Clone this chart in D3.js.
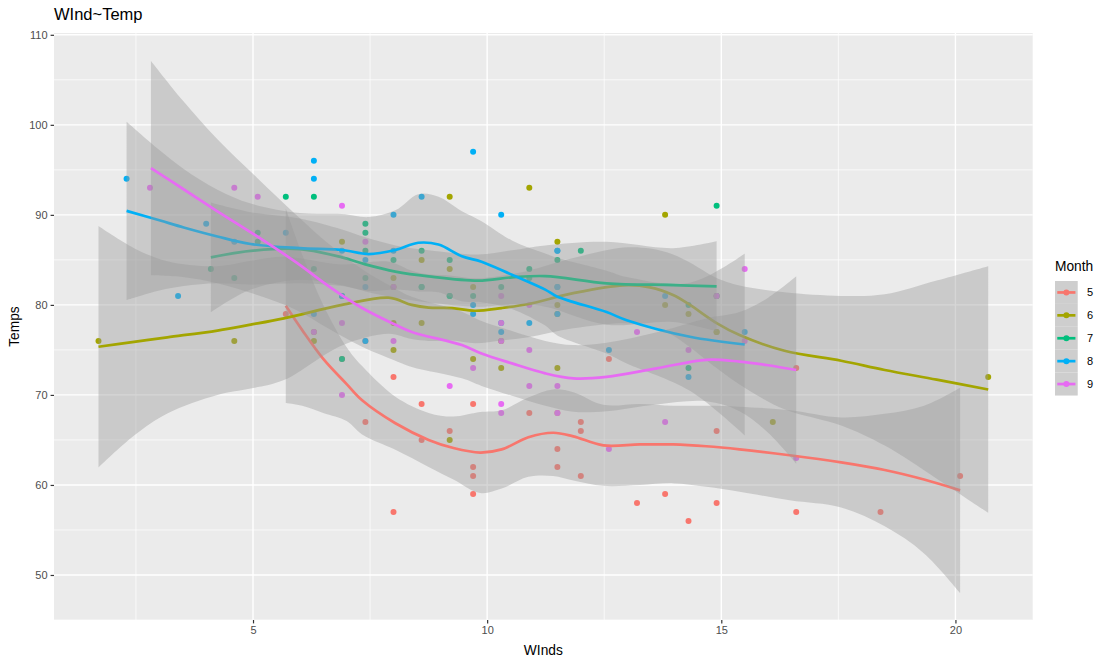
<!DOCTYPE html>
<html><head><meta charset="utf-8">
<script src="https://cdn.jsdelivr.net/npm/d3@7"></script>
<style>
body{margin:0;background:#fff;}
text{font-family:"Liberation Sans",Arial,Helvetica,sans-serif;}
</style>
</head><body>
<svg id="chart" width="1110" height="666"></svg>
<script>
// ---------------- data (airquality: Wind vs Temp by Month) ----------------
const months = ["5","6","7","8","9"];
const monthColors = ["#F8766D","#A3A500","#00BF7D","#00B0F6","#E76BF3"];

const wind5 = [7.4,8.0,12.6,11.5,14.3,14.9,8.6,13.8,20.1,8.6,6.9,9.7,9.2,10.9,13.2,11.5,12.0,18.4,11.5,9.7,9.7,16.6,9.7,12.0,16.6,14.9,8.0,12.0,14.9,5.7,7.4];
const temp5 = [67,72,74,62,56,66,65,59,61,69,74,69,66,68,58,64,66,57,68,62,59,73,61,61,57,58,57,67,81,79,76];
const wind6 = [8.6,9.7,16.1,9.2,8.6,14.3,9.7,6.9,13.8,11.5,10.9,9.2,8.0,13.8,11.5,14.9,20.7,9.2,11.5,10.3,6.3,1.7,4.6,6.3,8.0,8.0,10.3,11.5,14.9,8.0];
const temp6 = [78,74,67,84,85,79,82,87,90,87,93,92,82,80,79,77,72,65,73,76,77,76,76,76,75,78,73,80,77,83];
const wind7 = [4.1,9.2,9.2,10.9,4.6,10.9,5.1,6.3,5.7,7.4,8.6,14.3,14.9,14.9,14.3,6.9,10.3,6.3,5.1,11.5,6.9,9.7,11.5,8.6,8.0,8.6,12.0,7.4,7.4,7.4,9.2];
const temp7 = [84,85,81,84,83,83,88,92,92,89,82,73,81,91,80,81,82,84,87,85,74,81,82,86,85,82,86,88,86,83,81];
const wind8 = [6.9,13.8,7.4,6.9,7.4,4.6,4.0,10.3,8.0,8.6,11.5,11.5,11.5,9.7,11.5,10.3,6.3,7.4,10.9,10.3,15.5,14.3,12.6,9.7,3.4,8.0,5.7,9.7,2.3,6.3,6.3];
const temp8 = [81,81,82,86,85,87,89,90,90,92,86,86,82,80,79,77,79,76,78,78,77,72,75,79,81,86,88,97,94,96,94];
const wind9 = [6.9,5.1,2.8,4.6,7.4,15.5,10.9,10.3,10.9,9.7,14.9,15.5,6.3,10.9,11.5,6.9,13.8,10.3,10.3,8.0,12.6,9.2,10.3,10.3,16.6,6.9,13.2,14.3,8.0,11.5];
const temp9 = [91,92,93,93,87,84,80,78,75,73,81,76,77,71,71,78,67,76,68,82,64,71,81,69,63,70,77,75,76,68];

// smoothed curves: x, fit, lower, upper
const smX5  = [5.7,6.05,6.5,7.0,7.33,8.04,8.75,9.28,9.85,10.31,10.88,11.41,11.84,12.48,13.26,13.97,14.68,15.39,16.46,17.56,18.49,19.33,20.1];
const smY5  = [79.9,77.2,74.0,71.2,69.4,66.85,65.0,64.1,63.6,63.95,65.3,65.8,65.4,64.4,64.5,64.5,64.3,63.96,63.3,62.5,61.66,60.6,59.4];
const smLo5 = [69.1,68.8,68.0,67.1,65.6,63.9,62.0,60.6,59.1,59.6,60.9,61.0,60.5,59.9,60.0,60.2,59.8,59.25,58.3,57.5,55.4,52.4,48.0];
const smHi5 = [90.7,85.6,80.0,75.3,73.2,69.8,68.0,67.6,68.1,68.3,69.7,70.6,70.3,68.9,69.0,68.8,68.8,68.7,68.3,67.5,67.9,68.8,70.8];

const smX6  = [1.7,2.46,3.17,4.24,4.95,5.66,6.9,7.9,8.39,8.75,9.25,9.74,10.31,10.88,11.84,12.91,13.48,13.97,14.33,14.9,15.39,16.35,17.56,18.49,19.6,20.7];
const smY6  = [75.35,75.9,76.4,77.15,77.8,78.5,80.0,80.8,80.0,79.7,79.65,79.35,79.65,80.1,81.3,82.17,81.95,81.1,80.0,77.98,76.65,74.9,73.8,72.77,71.7,70.6];
const smLo6 = [61.95,65.5,67.95,70.0,70.7,71.65,75.5,76.8,76.2,76.0,76.05,75.75,76.05,76.4,77.4,77.97,77.65,76.6,75.3,72.98,71.15,68.4,66.6,64.37,60.7,56.9];
const smHi6 = [88.75,86.3,84.85,84.3,84.9,85.35,84.5,84.8,83.8,83.4,83.25,82.95,83.25,83.8,85.2,86.37,86.25,85.6,84.7,82.98,82.15,81.4,81.0,81.17,82.7,84.3];

const smX7  = [4.1,4.95,6.0,6.9,7.4,8.04,8.75,9.81,10.53,11.24,12.55,13.97,14.9];
const smY7  = [85.28,86.0,86.2,85.28,84.5,83.7,83.17,82.7,83.06,83.2,82.4,82.2,82.06];
const smLo7 = [79.18,81.7,82.8,82.18,81.5,80.8,80.27,79.8,80.06,79.8,77.8,78.1,77.06];
const smHi7 = [91.38,90.3,89.6,88.38,87.5,86.6,86.07,85.6,86.06,86.6,87.0,86.3,87.06];

const smX8  = [2.3,3.0,3.52,4.24,4.95,6.0,6.9,7.47,8.04,8.53,8.96,9.46,9.88,10.53,11.24,11.49,12.55,12.98,14.33,15.5];
const smY8  = [90.44,89.4,88.6,87.6,86.76,86.3,86.1,85.65,86.1,86.9,86.7,85.4,84.8,83.35,81.7,80.94,79.2,78.3,76.46,75.6];
const smLo8 = [80.54,81.6,82.1,82.4,82.26,82.4,82.1,81.55,81.7,81.5,81.4,80.4,80.3,79.55,77.7,76.64,74.6,73.5,70.46,65.5];
const smHi8 = [100.34,97.2,95.1,92.8,91.26,90.2,90.1,89.75,90.5,92.3,92.0,90.4,89.3,87.15,85.7,85.24,83.8,83.1,82.46,85.7];

const smX9  = [2.82,3.5,4.24,5.09,5.9,6.62,7.33,8.04,8.39,9.46,9.88,10.53,11.24,11.84,12.55,13.62,14.68,15.39,16.0,16.6];
const smY9  = [95.2,92.9,90.4,87.6,84.8,82.06,79.65,77.8,77.0,75.54,74.6,73.5,72.4,71.84,72.0,72.95,73.9,73.7,73.3,72.77];
const smLo9 = [83.3,83.1,82.4,81.1,79.5,77.36,75.35,73.8,73.1,71.84,71.0,69.9,68.8,68.14,68.2,68.95,69.3,68.2,65.8,62.37];
const smHi9 = [107.1,102.7,98.4,94.1,90.1,86.76,83.95,81.8,80.9,79.24,78.2,77.1,76.0,75.54,75.8,76.95,78.5,79.2,80.8,83.17];

const xTicks = [5,10,15,20];
const yTicks = [50,60,70,80,90,100,110];
const xDomain = [0.75, 21.65];
const yDomain = [45.0, 110.2];

// ---------------- build ----------------
const winds = [wind5,wind6,wind7,wind8,wind9];
const temps = [temp5,temp6,temp7,temp8,temp9];
const smooths = [
  [smX5,smY5,smLo5,smHi5],[smX6,smY6,smLo6,smHi6],[smX7,smY7,smLo7,smHi7],
  [smX8,smY8,smLo8,smHi8],[smX9,smY9,smLo9,smHi9]
];

const svg = d3.select("#chart");
const P = {l:54, r:1032.7, t:33, b:620};
const x = d3.scaleLinear().domain(xDomain).range([P.l, P.r]);
const y = d3.scaleLinear().domain(yDomain).range([P.b, P.t]);

svg.append("rect").attr("width",1110).attr("height",666).attr("fill","#fff");
svg.append("rect").attr("x",P.l).attr("y",P.t).attr("width",P.r-P.l).attr("height",P.b-P.t).attr("fill","#EBEBEB");

const g = svg.append("g");
// minor grid
const xMinor = [2.5,7.5,12.5,17.5];
const yMinor = [45,55,65,75,85,95,105];
g.selectAll(".xmin").data(xMinor).join("line")
  .attr("x1",d=>x(d)).attr("x2",d=>x(d)).attr("y1",P.t).attr("y2",P.b)
  .attr("stroke","#fff").attr("stroke-width",0.7);
g.selectAll(".ymin").data(yMinor).join("line")
  .attr("y1",d=>y(d)).attr("y2",d=>y(d)).attr("x1",P.l).attr("x2",P.r)
  .attr("stroke","#fff").attr("stroke-width",0.7);
// major grid
g.selectAll(".xmaj").data(xTicks).join("line")
  .attr("x1",d=>x(d)).attr("x2",d=>x(d)).attr("y1",P.t).attr("y2",P.b)
  .attr("stroke","#fff").attr("stroke-width",1.4);
g.selectAll(".ymaj").data(yTicks).join("line")
  .attr("y1",d=>y(d)).attr("y2",d=>y(d)).attr("x1",P.l).attr("x2",P.r)
  .attr("stroke","#fff").attr("stroke-width",1.4);

// points (all groups first)
months.forEach((m,i)=>{
  const pts = winds[i].map((w,j)=>({w, t:temps[i][j]}));
  svg.append("g").selectAll("circle").data(pts).join("circle")
    .attr("cx",d=>x(d.w)).attr("cy",d=>y(d.t)).attr("r",3)
    .attr("fill",monthColors[i]);
});

// smooth ribbons + lines per group
const curve = d3.curveCatmullRom.alpha(0.5);
months.forEach((m,i)=>{
  const [sx,sy,lo,hi] = smooths[i];
  const rows = sx.map((v,j)=>({x:v, y:sy[j], lo:lo[j], hi:hi[j]}));
  svg.append("path").datum(rows)
    .attr("d", d3.area().curve(curve).x(d=>x(d.x)).y0(d=>y(d.lo)).y1(d=>y(d.hi)))
    .attr("fill","#999999").attr("fill-opacity",0.4);
  svg.append("path").datum(rows)
    .attr("d", d3.line().curve(curve).x(d=>x(d.x)).y(d=>y(d.y)))
    .attr("fill","none").attr("stroke",monthColors[i]).attr("stroke-width",2.7);
});

// axes
const xAxis = svg.append("g").attr("transform",`translate(0,${P.b})`)
  .call(d3.axisBottom(x).tickValues(xTicks).tickSize(3.4).tickPadding(3).tickFormat(d3.format("d")));
const yAxis = svg.append("g").attr("transform",`translate(${P.l},0)`)
  .call(d3.axisLeft(y).tickValues(yTicks).tickSize(3.4).tickPadding(3).tickFormat(d3.format("d")));
[xAxis,yAxis].forEach(a=>{
  a.select(".domain").remove();
  a.selectAll(".tick line").attr("stroke","#333333").attr("stroke-width",1.2);
  a.selectAll(".tick text").attr("fill","#4D4D4D").style("font-size","11px")
    .style("font-family",'"Liberation Sans",Arial,sans-serif');
});

// titles
svg.append("text").attr("x",P.l).attr("y",19.5).text("WInd~Temp")
  .style("font-size","16.5px").attr("fill","#000");
svg.append("text").attr("x",(P.l+P.r)/2).attr("y",655).attr("text-anchor","middle")
  .text("WInds").style("font-size","13.75px").attr("fill","#000");
svg.append("text").attr("transform",`translate(18.5,${(P.t+P.b)/2}) rotate(-90)`)
  .attr("text-anchor","middle").text("Temps").style("font-size","13.75px").attr("fill","#000");

// legend
const L = {x:1055, y:281, w:22.7, h:22.9};
svg.append("text").attr("x",L.x).attr("y",270.5).text("Month").style("font-size","13.75px").attr("fill","#000");
months.forEach((m,i)=>{
  const ky = L.y + i*L.h;
  const kg = svg.append("g");
  kg.append("rect").attr("x",L.x).attr("y",ky).attr("width",L.w).attr("height",L.h).attr("fill","#F2F2F2");
  kg.append("rect").attr("x",L.x).attr("y",ky).attr("width",L.w).attr("height",L.h).attr("fill","#999999").attr("fill-opacity",0.4);
  kg.append("line").attr("x1",L.x+L.w*0.1).attr("x2",L.x+L.w*0.9).attr("y1",ky+L.h/2).attr("y2",ky+L.h/2)
    .attr("stroke",monthColors[i]).attr("stroke-width",2.7);
  kg.append("circle").attr("cx",L.x+L.w/2).attr("cy",ky+L.h/2).attr("r",3).attr("fill",monthColors[i]);
  svg.append("text").attr("x",1087).attr("y",ky+L.h/2+4).text(m).style("font-size","11px").attr("fill","#000");
});
</script>
</body></html>
